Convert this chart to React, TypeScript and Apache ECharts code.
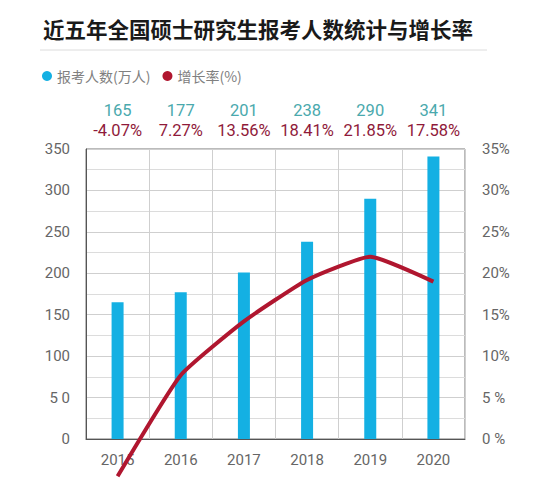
import React, { useEffect, useRef } from "react";
import * as echarts from "echarts";

const years = ["2015", "2016", "2017", "2018", "2019", "2020"];
const applicants = [165, 177, 201, 238, 290, 341];
const rateLabels = ["-4.07%", "7.27%", "13.56%", "18.41%", "21.85%", "17.58%"];
// growth line as drawn in the picture
const rateLine = [-4.5, 7.7, 14.2, 19.2, 22.0, 19.0];
const leftTicks: Record<number, string> = { 0: "0", 50: "5 0", 100: "100", 150: "150", 200: "200", 250: "250", 300: "300", 350: "350" };
const rightTicks: Record<number, string> = { 0: "0 %", 5: "5 %", 10: "10%", 15: "15%", 20: "20%", 25: "25%", 30: "30%", 35: "35%" };

const BAR = "#14b0e3";
const LINE = "#b0162f";
const NUM_FONT = "Roboto, 'Noto Sans', sans-serif";
const CJK_FONT = "'Noto Sans CJK SC', sans-serif";

export default function App() {
  const ref = useRef<HTMLDivElement>(null);
  useEffect(() => {
    document.body.style.margin = "0";
    const chart = echarts.init(ref.current!, undefined, { renderer: "svg" });
    chart.setOption({
      animation: false,
      backgroundColor: "#ffffff",
      title: {
        text: "近五年全国硕士研究生报考人数统计与增长率",
        left: 38,
        top: 13,
        textStyle: { fontFamily: CJK_FONT, fontSize: 21.5, fontWeight: "bold", color: "#1a1a1a" },
      },
      graphic: [
        { type: "line", shape: { x1: 40, y1: 50, x2: 487, y2: 50 }, style: { stroke: "#dcdcdc", lineWidth: 1 } },
      ],
      legend: {
        left: 37,
        top: 64,
        itemWidth: 10,
        itemHeight: 10,
        itemGap: 12,
        icon: "circle",
        textStyle: { fontFamily: CJK_FONT, fontSize: 14, color: "#808080" },
        data: ["报考人数(万人)", "增长率(%)"],
      },
      grid: {
        left: 86,
        right: 91,
        top: 149,
        bottom: 63,
        show: true,
        borderColor: "#777",
        borderWidth: 1,
      },
      xAxis: [
        {
          type: "category",
          data: years,
          position: "bottom",
          axisLine: { lineStyle: { color: "#555" } },
          axisTick: { show: false },
          splitLine: { show: true, lineStyle: { color: "#cfcfcf", width: 1 } },
          axisLabel: { color: "#666", fontSize: 15, fontFamily: NUM_FONT, margin: 13 },
        },
        {
          type: "category",
          data: years,
          position: "top",
          axisLine: { show: false },
          axisTick: { show: false },
          axisLabel: {
            interval: 0,
            margin: 9,
            formatter: (_v: string, i: number) => `{a|${applicants[i]}}\n{b|${rateLabels[i]}}`,
            rich: {
              a: { color: "#4aa9ad", fontSize: 16.5, fontFamily: NUM_FONT, lineHeight: 20 },
              b: { color: "#8f1a3a", fontSize: 16.5, fontFamily: NUM_FONT, lineHeight: 20 },
            },
          },
        },
      ],
      yAxis: [
        {
          type: "value",
          min: 0,
          max: 350,
          interval: 50,
          axisLine: { show: true, lineStyle: { color: "#555" } },
          axisTick: { show: false },
          axisLabel: {
            color: "#666",
            fontSize: 15,
            fontFamily: NUM_FONT,
            margin: 16,
            formatter: (v: number) => leftTicks[v] ?? String(v),
          },
          splitLine: { show: true, lineStyle: { color: "#cfcfcf" } },
          minorTick: { show: false, splitNumber: 2 },
          minorSplitLine: { show: true, lineStyle: { color: "#dcdcdc" } },
        },
        {
          type: "value",
          min: 0,
          max: 35,
          interval: 5,
          axisLine: { show: false },
          axisTick: { show: false },
          splitLine: { show: false },
          axisLabel: {
            color: "#666",
            fontSize: 15,
            fontFamily: NUM_FONT,
            margin: 17,
            formatter: (v: number) => rightTicks[v] ?? v + "%",
          },
        },
      ],
      series: [
        {
          name: "报考人数(万人)",
          type: "bar",
          data: applicants,
          barWidth: 12,
          itemStyle: { color: BAR },
          z: 2,
        },
        {
          name: "增长率(%)",
          type: "line",
          yAxisIndex: 1,
          data: rateLine,
          smooth: 0.15,
          symbol: "none",
          clip: false,
          lineStyle: { color: LINE, width: 4 },
          itemStyle: { color: LINE },
          z: 5,
        },
      ],
    });
    return () => chart.dispose();
  }, []);
  return <div ref={ref} style={{ width: 556, height: 502 }} />;
}
